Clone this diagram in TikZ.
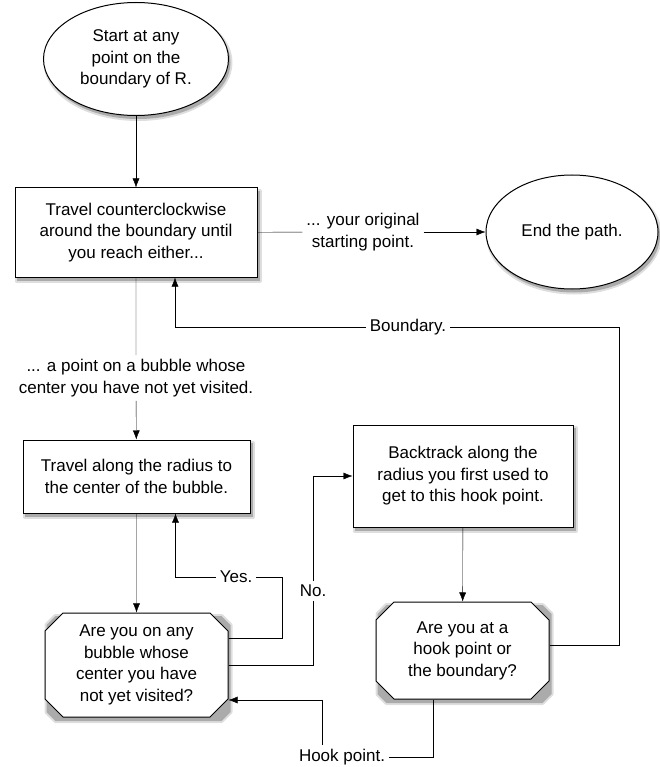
\documentclass[tikz,border=0pt]{standalone}
\usepackage{fontspec}
\setmainfont{Liberation Sans}
\usepackage{tikz}
\usetikzlibrary{shapes,calc,backgrounds,arrows.meta}

\begin{document}
\begin{tikzpicture}[x=1pt, y=1pt, line width=1pt,
    every node/.style={font=\fontsize{17}{21.5}\selectfont, align=center},
    oval/.style={ellipse, draw, fill=white, inner sep=0pt},
    box/.style={rectangle, draw, fill=white, inner sep=0pt},
    decide/.style={chamfered rectangle, draw, fill=white, inner sep=0pt,
                   chamfered rectangle xsep=9pt, chamfered rectangle ysep=9pt},
    lbl/.style={fill=white, inner sep=4pt},
    shadowsoft/.style={fill=black!13, draw=black!13, line width=4pt, line join=round},
    shadowcore/.style={fill=black!33, draw=none},
    >={Latex[length=9pt, width=7pt]}]
      \useasboundingbox (0, 0) rectangle (660, -767);
      % shapes
      \node (start) [oval, minimum width=185, minimum height=113] at (136, -59)
            {Start at any\\point on the\\boundary of R.};
      \node (travel) [box, minimum width=242, minimum height=89] at (136, -232.5)
            {Travel counterclockwise\\around the boundary until\\you reach either...};
      \node (endpath) [oval, minimum width=172, minimum height=114] at (572, -232)
            {End the path.};
      \node (radius) [box, minimum width=227, minimum height=73] at (136.5, -476.5)
            {Travel along the radius to\\the center of the bubble.};
      \node (backtrack) [box, minimum width=220, minimum height=102] at (463, -476)
            {Backtrack along the\\radius you first used to\\get to this hook point.};
      \node (onbubble) [decide, minimum width=183, minimum height=104] at (136.5, -665)
            {Are you on any\\bubble whose\\center you have\\not yet visited?};
      \node (hookq) [decide, minimum width=173, minimum height=97] at (462.5, -650.5)
            {Are you at a\\hook point or\\the boundary?};
      % shadows behind the shapes
      \begin{pgfonlayer}{background}
        \foreach \s in {shadowsoft, shadowcore} {
          \foreach \n in {travel, radius, backtrack}
            \path[\s] ($(\n.south west)+(2,-3.5)$) rectangle ($(\n.north east)+(2,-3.5)$);
          \foreach \n in {onbubble, hookq}
            \path[\s] ($(\n.west |- \n.south)+(11,-3.5)$) -- ($(\n.east |- \n.south)+(-7,-3.5)$)
                   -- ($(\n.east |- \n.south)+(2,5.5)$) -- ($(\n.east |- \n.north)+(2,-12.5)$)
                   -- ($(\n.east |- \n.north)+(-7,-3.5)$) -- ($(\n.west |- \n.north)+(11,-3.5)$)
                   -- ($(\n.west |- \n.north)+(2,-12.5)$) -- ($(\n.west |- \n.south)+(2,5.5)$) -- cycle;
          \path[\s] ($(start)+(2,-3.5)$) ellipse [x radius=92.5, y radius=56.5];
          \path[\s] ($(endpath)+(2,-3.5)$) ellipse [x radius=86, y radius=57];
        }
      \end{pgfonlayer}
      % labels on the connectors
      \node (orig) [lbl] at (363, -232) {... your original\\starting point.};
      \node (newbub) [lbl] at (136, -378) {... a point on a bubble whose\\center you have not yet visited.};
      \node (bound) [lbl] at (408, -327) {Boundary.};
      \node (yes) [lbl] at (236, -577) {Yes.};
      \node (no) [lbl] at (313, -591) {No.};
      \node (hook) [lbl] at (342, -757) {Hook point.};
      \coordinate (yesturn) at (282, -577);
      \coordinate (bturn) at (619, -327);
      \coordinate (hookup) at (322, -700);
      % connectors
      \draw[->] (start) edge (travel)
                (orig) edge (endpath)
                (newbub) edge (radius)
                (radius) edge (onbubble)
                (backtrack) edge (hookq);
      \draw (travel) -- (orig)
            (travel) -- (newbub);
      \draw[->] ([yshift=27pt]onbubble.east) -| (yesturn) -- (yes.east)
                (yes.west) -| ([xshift=39pt]radius.south);
      \draw[->] (onbubble.east) -| (no.south)
                (no.north) |- (backtrack.west);
      \draw[->] ([xshift=-29pt]hookq.south) |- (hook.east)
                (hook.north -| hookup) -- (hookup) -- (hookup -| onbubble.east);
      \draw[->] ([yshift=5pt]hookq.east) -| (bturn) -- (bound.east)
                (bound.west) -| ([xshift=39pt]travel.south);
\end{tikzpicture}
\end{document}
